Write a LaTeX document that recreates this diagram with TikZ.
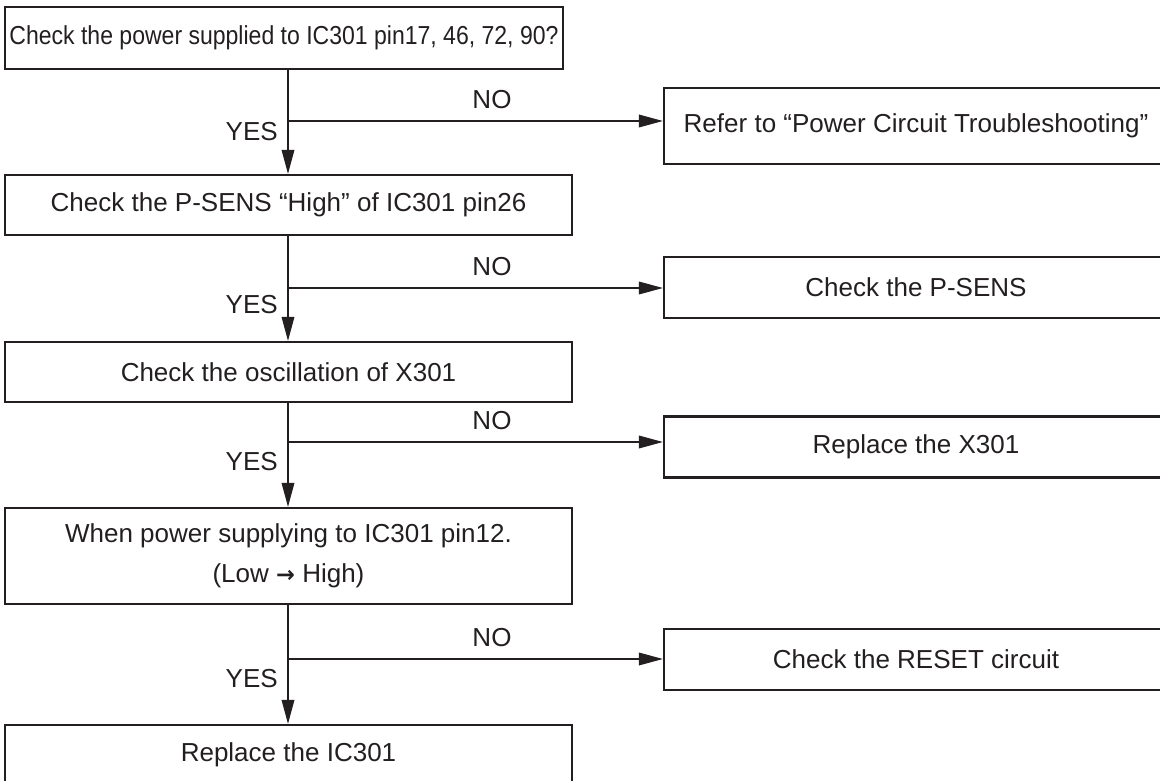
\documentclass[tikz,border=0pt]{standalone}
\usepackage{fontspec}
\setmainfont{Liberation Sans}
\newfontfamily\narrowsf[FakeStretch=0.885]{Liberation Sans}
\newfontfamily\arrowsf{DejaVu Sans Bold}
\usetikzlibrary{arrows.meta}
\definecolor{ink}{RGB}{35,31,32}

\begin{document}
\begin{tikzpicture}[x=0.025cm,y=-0.025cm,
  every node/.style={text=ink,font=\fontsize{18.5}{28.5}\selectfont},
  chk/.style={draw=ink,line width=1.6pt,rectangle,inner sep=0pt,align=center},
  main/.style={chk,minimum width=567*0.025cm,minimum height=60*0.025cm},
  fix/.style={chk,minimum width=504*0.025cm,minimum height=61*0.025cm},
  lbl/.style={inner sep=0pt},
  >={Triangle[length=17pt,width=9pt]},
  flow/.style={->,every edge/.style={draw=ink,line width=0.9pt}}]
  \useasboundingbox (0,0) rectangle (1160,781);
  \clip (0,0) rectangle (1160,781);
  % checks down the left
  \node[chk,minimum width=558*0.025cm,minimum height=62*0.025cm] (c_1) at (284,38)
    {\narrowsf Check the power supplied to IC301 pin17, 46, 72, 90?};
  \node[main] (c_2) at (288.5,205) {Check the P-SENS “High” of IC301 pin26};
  \node[main] (c_3) at (288.5,372) {Check the oscillation of X301};
  \node[main,minimum height=96*0.025cm] (c_4) at (288.5,556)
    {When power supplying to IC301 pin12.\\(Low {\arrowsf\fontsize{16}{28.5}\selectfont →} High)};
  \node[main] (c_5) at (288.5,755) {Replace the IC301};
  % what to do on NO
  \node[fix,minimum height=76*0.025cm] (r_1) at (916,126) {Refer to “Power Circuit Troubleshooting”};
  \node[fix] (r_2) at (916,287.5) {Check the P-SENS};
  \node[fix] (r_3) at (916,447) {Replace the X301};
  \node[fix] (r_4) at (916,659.5) {Check the RESET circuit};
  \coordinate (b_1) at (288,121);
  \coordinate (b_2) at (288,288);
  \coordinate (b_3) at (288,442);
  \coordinate (b_4) at (288,659);
  \path[flow]
  (c_1.south -| b_1) edge (c_2.north -| b_1)
  (c_2.south -| b_2) edge (c_3.north -| b_2)
  (c_3.south -| b_3) edge (c_4.north -| b_3)
  (c_4.south -| b_4) edge (c_5.north -| b_4)
  (b_1) edge (b_1 -| r_1.west)
  (b_2) edge (b_2 -| r_2.west)
  (b_3) edge (b_3 -| r_3.west)
  (b_4) edge (b_4 -| r_4.west);
  \node[lbl] (no_1) at (492,100) {NO};
  \node[lbl] (no_2) at (492,267) {NO};
  \node[lbl] (no_3) at (492,421) {NO};
  \node[lbl] (no_4) at (492,638) {NO};
  \node[lbl,anchor=east] (yes_1) at (278,132) {YES};
  \node[lbl,anchor=east] (yes_2) at (278,305) {YES};
  \node[lbl,anchor=east] (yes_3) at (278,462) {YES};
  \node[lbl,anchor=east] (yes_4) at (278,679) {YES};
\end{tikzpicture}
\end{document}
